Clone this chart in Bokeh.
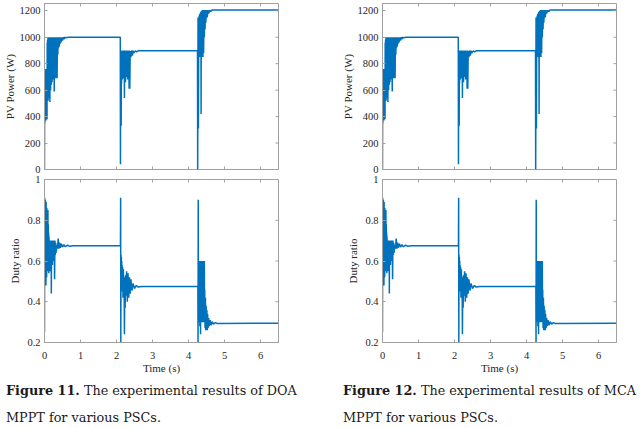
from math import pi

from bokeh.plotting import figure
from bokeh.models import Range1d, FixedTicker, Div
from bokeh.layouts import column, row
from bokeh.embed import file_html
from bokeh.resources import INLINE

# PV power (W), time in seconds
power_t = [0.000, 0.005, 0.010, 0.015, 0.020, 0.025, 0.030, 0.035, 0.040, 0.045,
           0.050, 0.055, 0.060, 0.065, 0.070, 0.075, 0.080, 0.085, 0.090, 0.095,
           0.100, 0.105, 0.110, 0.115, 0.120, 0.125, 0.130, 0.135, 0.140, 0.145,
           0.150, 0.155, 0.160, 0.165, 0.170, 0.175, 0.180, 0.185, 0.190, 0.195,
           0.200, 0.205, 0.210, 0.215, 0.220, 0.225, 0.230, 0.240, 0.250, 0.260,
           0.270, 0.280, 0.290, 0.300, 0.310, 0.320, 0.330, 0.340, 0.350, 0.360,
           0.370, 0.380, 0.390, 0.400, 0.410, 0.420, 0.430, 0.440, 0.460, 0.480,
           0.500, 0.520, 0.540, 0.560, 0.600, 0.650,
           2.105, 2.110, 2.115, 2.120, 2.125, 2.130, 2.135, 2.140, 2.145, 2.150,
           2.155, 2.160, 2.165, 2.170, 2.175, 2.180, 2.185, 2.190, 2.195, 2.200,
           2.205, 2.210, 2.215, 2.220, 2.225, 2.230, 2.240, 2.250, 2.260, 2.270,
           2.280, 2.290, 2.300, 2.310, 2.320, 2.330, 2.340, 2.350, 2.360, 2.370,
           2.380, 2.400, 2.420, 2.440, 2.460, 2.480, 2.520, 2.560, 2.600,
           4.250, 4.255, 4.265, 4.275, 4.285, 4.290, 4.295, 4.300, 4.305, 4.310,
           4.315, 4.320, 4.325, 4.330, 4.335, 4.340, 4.345, 4.350, 4.355, 4.360,
           4.365, 4.370, 4.375, 4.380, 4.385, 4.390, 4.395, 4.400, 4.410, 4.420,
           4.430, 4.440, 4.450, 4.460, 4.470, 4.480, 4.500, 4.520, 4.540, 4.560,
           4.590, 4.620, 4.650, 6.490]
power_w = [0, 760, 350, 760, 380, 760, 420, 760, 370, 760,
           450, 760, 500, 760, 380, 960, 520, 980, 560, 1000,
           520, 990, 600, 1000, 580, 1000, 540, 1000, 620, 1000,
           510, 1000, 640, 1000, 600, 1000, 660, 1000, 640, 1000,
           700, 1000, 660, 1000, 680, 1000, 700, 1000, 680, 1000,
           590, 1000, 690, 1000, 690, 1000, 700, 1000, 690, 1000,
           870, 1000, 920, 1000, 930, 1000, 950, 1000, 960, 1000,
           975, 1000, 985, 1000, 995, 1000,
           1000, 40, 900, 700, 895, 330, 900, 650, 890, 720,
           900, 680, 895, 750, 900, 690, 895, 720, 900, 700,
           890, 740, 900, 540, 895, 700, 900, 660, 895, 700,
           900, 720, 895, 680, 900, 760, 895, 610, 900, 610,
           895, 850, 900, 860, 898, 880, 897, 890, 897,
           897, 0, 1150, 310, 1150, 860, 1160, 850, 1170, 880,
           1175, 850, 1180, 900, 1185, 860, 1190, 420, 1195, 850,
           1200, 900, 1200, 850, 1200, 950, 1205, 850, 1205, 880,
           1205, 1000, 1205, 1060, 1205, 1110, 1205, 1150, 1205, 1180,
           1205, 1195, 1205, 1205]

# Duty ratio
duty_t = [0.000, 0.005, 0.010, 0.015, 0.020, 0.025, 0.030, 0.035, 0.040, 0.045,
          0.050, 0.055, 0.060, 0.065, 0.070, 0.075, 0.080, 0.085, 0.090, 0.095,
          0.100, 0.105, 0.110, 0.115, 0.120, 0.125, 0.130, 0.135, 0.140, 0.145,
          0.150, 0.155, 0.160, 0.165, 0.170, 0.175, 0.180, 0.185, 0.190, 0.195,
          0.200, 0.210, 0.220, 0.230, 0.240, 0.250, 0.260, 0.270, 0.280, 0.290,
          0.300, 0.310, 0.320, 0.340, 0.360, 0.380, 0.400, 0.420, 0.440, 0.470,
          0.500, 0.540, 0.580, 0.640, 0.700, 0.800,
          2.110, 2.115, 2.120, 2.125, 2.130, 2.135, 2.140, 2.145, 2.150, 2.155,
          2.160, 2.170, 2.180, 2.190, 2.200, 2.210, 2.220, 2.230, 2.240, 2.250,
          2.260, 2.280, 2.300, 2.320, 2.340, 2.360, 2.380, 2.400, 2.430, 2.460,
          2.500, 2.550, 2.600, 2.700,
          4.260, 4.265, 4.270, 4.275, 4.280, 4.285, 4.290, 4.295, 4.300, 4.305,
          4.310, 4.315, 4.320, 4.325, 4.330, 4.335, 4.340, 4.345, 4.350, 4.355,
          4.360, 4.365, 4.370, 4.375, 4.380, 4.385, 4.390, 4.395, 4.400, 4.405,
          4.410, 4.415, 4.420, 4.425, 4.430, 4.435, 4.440, 4.445, 4.450, 4.460,
          4.470, 4.480, 4.490, 4.500, 4.510, 4.520, 4.530, 4.545, 4.560, 4.580,
          4.600, 4.630, 4.660, 4.700, 4.750, 4.800, 6.490]
duty_v = [0.25, 0.91, 0.60, 0.90, 0.50, 0.90, 0.62, 0.88, 0.48, 0.89,
          0.58, 0.85, 0.52, 0.86, 0.60, 0.84, 0.55, 0.80, 0.62, 0.85,
          0.56, 0.78, 0.60, 0.74, 0.54, 0.72, 0.62, 0.70, 0.57, 0.70,
          0.63, 0.69, 0.55, 0.70, 0.60, 0.69, 0.58, 0.70, 0.44, 0.69,
          0.62, 0.70, 0.58, 0.69, 0.62, 0.70, 0.60, 0.69, 0.51, 0.70,
          0.63, 0.69, 0.64, 0.68, 0.66, 0.71, 0.66, 0.69, 0.665, 0.685,
          0.668, 0.680, 0.670, 0.678, 0.672, 0.675,
          0.675, 0.91, 0.20, 0.63, 0.50, 0.62, 0.46, 0.60, 0.48, 0.58,
          0.45, 0.57, 0.42, 0.56, 0.46, 0.52, 0.24, 0.50, 0.37, 0.53,
          0.43, 0.55, 0.40, 0.54, 0.42, 0.52, 0.44, 0.51, 0.455, 0.49,
          0.465, 0.48, 0.472, 0.475,
          0.475, 0.20, 0.90, 0.33, 0.60, 0.32, 0.60, 0.30, 0.60, 0.34,
          0.60, 0.28, 0.60, 0.32, 0.60, 0.24, 0.60, 0.31, 0.60, 0.33,
          0.60, 0.30, 0.60, 0.34, 0.60, 0.31, 0.60, 0.33, 0.60, 0.30,
          0.60, 0.33, 0.60, 0.32, 0.60, 0.30, 0.60, 0.32, 0.46, 0.27,
          0.42, 0.26, 0.38, 0.27, 0.36, 0.26, 0.34, 0.27, 0.32, 0.28,
          0.31, 0.285, 0.302, 0.29, 0.298, 0.293, 0.295]

time_ticks = [0, 1, 2, 3, 4, 5, 6]
time_limits = (0, 6.5)
power_ticks = [0, 200, 400, 600, 800, 1000, 1200]
power_limits = (0, 1255)
duty_ticks = [0.2, 0.4, 0.6, 0.8, 1.0]
duty_limits = (0.2, 1.0)

captions = [("Figure 11.", "The experimental results of DOA", "MPPT for various PSCs."),
            ("Figure 12.", "The experimental results of MCA", "MPPT for various PSCs.")]

BLUE = "#0072BD"
GREY = "#a0a0a0"
INK = "#262626"
FONT = "Liberation Serif"


def style_axis(ax, ticks):
    ax.ticker = FixedTicker(ticks=ticks)
    ax.axis_line_color = GREY
    ax.major_tick_line_color = GREY
    ax.minor_tick_line_color = None
    ax.major_tick_in = 3
    ax.major_tick_out = 0
    ax.major_label_text_font = FONT
    ax.major_label_text_font_size = "10.5px"
    ax.major_label_text_color = INK
    ax.major_label_standoff = 4
    ax.axis_label_text_font = FONT
    ax.axis_label_text_font_size = "11px"
    ax.axis_label_text_font_style = "normal"
    ax.axis_label_text_color = INK


def edge_ticks(p, xticks, ylim, yticks, xlim, sides):
    # unlabeled inward ticks of the matlab box; markers sit on the frame edge and get clipped
    for side in sides:
        if side in ("top", "bottom"):
            y = ylim[1] if side == "top" else ylim[0]
            p.scatter(xticks, [y] * len(xticks), marker="dash", angle=pi / 2, size=6,
                      line_color=GREY, line_width=1)
        else:
            p.scatter([xlim[1]] * len(yticks), yticks, marker="dash", size=6,
                      line_color=GREY, line_width=1)


def panel(caption, right_pad, caption_left, caption_width):
    width = 44 + 234 + right_pad
    top = figure(width=width, height=174, x_range=Range1d(*time_limits), y_range=Range1d(*power_limits),
                 output_backend="svg", toolbar_location=None, x_axis_location=None,
                 min_border_left=44, min_border_right=right_pad,
                 min_border_top=3, min_border_bottom=5)
    top.line(power_t, power_w, color=BLUE, line_width=1.5)
    edge_ticks(top, time_ticks, power_limits, power_ticks, time_limits, ["top", "bottom", "right"])
    style_axis(top.left[0], power_ticks)
    top.left[0].axis_label = "PV Power (W)"
    top.left[0].axis_label_standoff = 1

    bottom = figure(width=width, height=202, x_range=Range1d(*time_limits), y_range=Range1d(*duty_limits),
                    output_backend="svg", toolbar_location=None,
                    min_border_left=44, min_border_right=right_pad,
                    min_border_top=5, min_border_bottom=31)
    bottom.line(duty_t, duty_v, color=BLUE, line_width=1.5)
    edge_ticks(bottom, time_ticks, duty_limits, duty_ticks[:-1], time_limits, ["top", "right"])
    style_axis(bottom.left[0], duty_ticks)
    style_axis(bottom.below[0], time_ticks)
    bottom.left[0].axis_label = "Duty ratio"
    bottom.left[0].axis_label_standoff = 3
    bottom.left[0].major_label_overrides = {1: "1"}
    bottom.below[0].axis_label = "Time (s)"
    bottom.below[0].major_label_standoff = 9
    bottom.below[0].axis_label_standoff = 0

    for p in (top, bottom):
        p.grid.visible = False
        p.outline_line_color = GREY
        p.background_fill_color = "white"

    bold, line1, line2 = caption
    text = Div(text="<b>%s</b> %s<br>%s" % (bold, line1, line2), width=caption_width, height=50,
               margin=(1, 0, 0, caption_left),
               styles={"font-family": "'DejaVu Serif'", "font-size": "12.8px",
                       "line-height": "27px", "color": "#1a1a1a", "white-space": "nowrap"})
    return column(top, bottom, text)


p = row(panel(captions[0], 60, 6, 300), panel(captions[1], 8, 5, 295))

open("out.html", "w").write(file_html(p, INLINE))
